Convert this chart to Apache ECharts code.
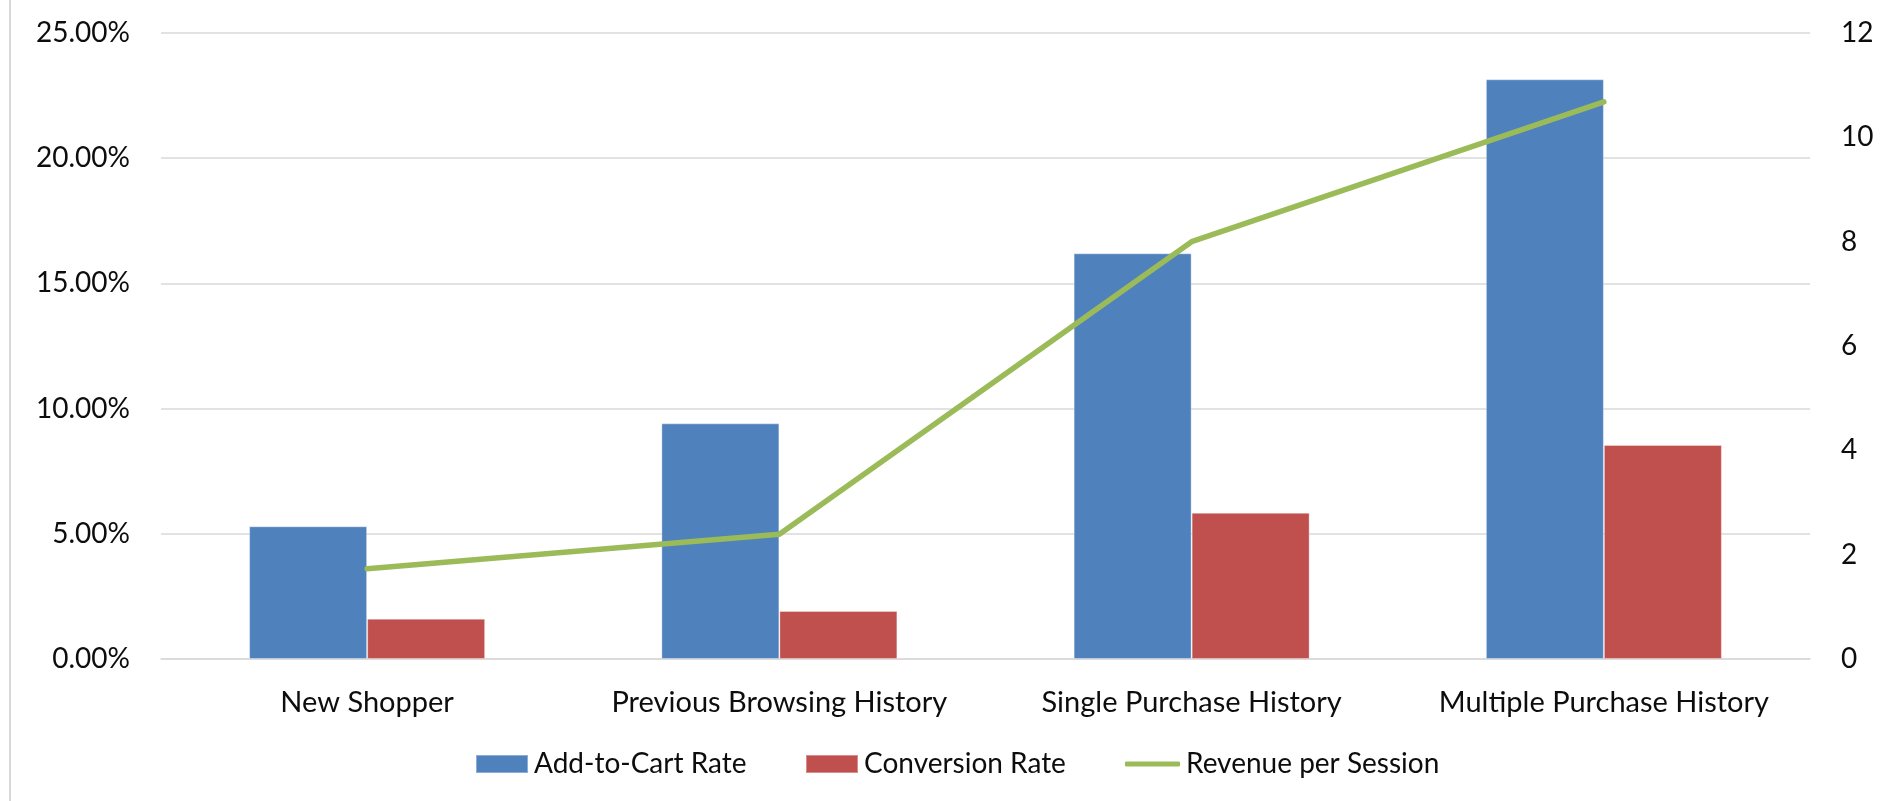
<!DOCTYPE html>
<html>
<head>
<meta charset="utf-8">
<title>Shopper History Performance</title>
<script src="https://cdn.jsdelivr.net/npm/echarts@6/dist/echarts.min.js"></script>
<style>
  html, body { margin: 0; padding: 0; background: #ffffff; }
  #chart { width: 1903px; height: 801px; }
</style>
</head>
<body>
<div id="chart"></div>
<script>
// Shopper segments along the category axis
var categories = ['New Shopper', 'Previous Browsing History', 'Single Purchase History', 'Multiple Purchase History'];

// Rates, as fractions (left axis)
var addToCartRate = [0.0530, 0.0941, 0.1620, 0.2315];
var conversionRate = [0.0161, 0.0192, 0.0584, 0.0855];

// Revenue per session (right axis)
var revenuePerSession = [1.73, 2.39, 8.00, 10.68];

// Axis ranges
var leftAxis = { min: 0, max: 0.25, interval: 0.05 };
var rightAxis = { min: 0, max: 12, interval: 2 };

var seriesNames = ['Add-to-Cart Rate', 'Conversion Rate', 'Revenue per Session'];
var colors = ['#4F81BD', '#C0504D', '#9BBB59'];

var FONT = 'Lato';
var FS = 28;
var TEXT = '#0d0d0d';
var GRID = '#D9D9D9';

var chart = echarts.init(document.getElementById('chart'), null, { renderer: 'canvas' });

function legendAt(name, left, w, h, icon) {
  return {
    data: [{ name: name, icon: icon }],
    left: left,
    top: 750,
    padding: 0,
    itemWidth: w,
    itemHeight: h,
    itemGap: 0,
    selectedMode: false,
    textStyle: { fontFamily: FONT, fontSize: FS, color: TEXT, padding: [0, 0, 0, 1] }
  };
}

chart.setOption({
  animation: false,
  backgroundColor: '#ffffff',
  textStyle: { fontFamily: FONT },
  grid: { left: 161, right: 93, top: 33, bottom: 142, containLabel: false },
  legend: [
    legendAt(seriesNames[0], 475, 52, 18, 'rect'),
    legendAt(seriesNames[1], 805, 52, 18, 'rect'),
    legendAt(seriesNames[2], 1125, 55, 5, 'roundRect')
  ],
  xAxis: {
    type: 'category',
    data: categories,
    axisLine: { show: true, lineStyle: { color: GRID, width: 1.5 } },
    axisTick: { show: false },
    axisLabel: { margin: 29, fontFamily: FONT, fontSize: 29, color: TEXT, interval: 0 },
    splitLine: { show: false }
  },
  yAxis: [
    {
      type: 'value',
      min: leftAxis.min, max: leftAxis.max, interval: leftAxis.interval,
      axisLine: { show: false },
      axisTick: { show: false },
      axisLabel: {
        margin: 31, fontFamily: FONT, fontSize: FS, color: TEXT,
        formatter: function (v) { return (v * 100).toFixed(2) + '%'; }
      },
      splitLine: { show: true, lineStyle: { color: GRID, width: 1.5 } }
    },
    {
      type: 'value',
      min: rightAxis.min, max: rightAxis.max, interval: rightAxis.interval,
      axisLine: { show: false },
      axisTick: { show: false },
      axisLabel: { margin: 31, fontFamily: FONT, fontSize: FS, color: TEXT },
      splitLine: { show: false }
    }
  ],
  series: [
    {
      name: seriesNames[0],
      type: 'bar',
      yAxisIndex: 0,
      data: addToCartRate,
      barWidth: 118,
      barGap: '0%',
      itemStyle: { color: colors[0], borderColor: 'rgba(255,255,255,0.35)', borderWidth: 1 }
    },
    {
      name: seriesNames[1],
      type: 'bar',
      yAxisIndex: 0,
      data: conversionRate,
      barWidth: 118,
      barGap: '0%',
      itemStyle: { color: colors[1], borderColor: 'rgba(255,255,255,0.35)', borderWidth: 1 }
    },
    {
      name: seriesNames[2],
      type: 'line',
      yAxisIndex: 1,
      data: revenuePerSession,
      symbol: 'none',
      showSymbol: false,
      z: 5,
      itemStyle: { color: colors[2] },
      lineStyle: { color: colors[2], width: 5.5, cap: 'round', join: 'round' }
    }
  ],
  graphic: [
    {
      type: 'line',
      shape: { x1: 10, y1: 0, x2: 10, y2: 801 },
      style: { stroke: GRID, lineWidth: 2 },
      silent: true
    }
  ]
});
</script>
</body>
</html>
